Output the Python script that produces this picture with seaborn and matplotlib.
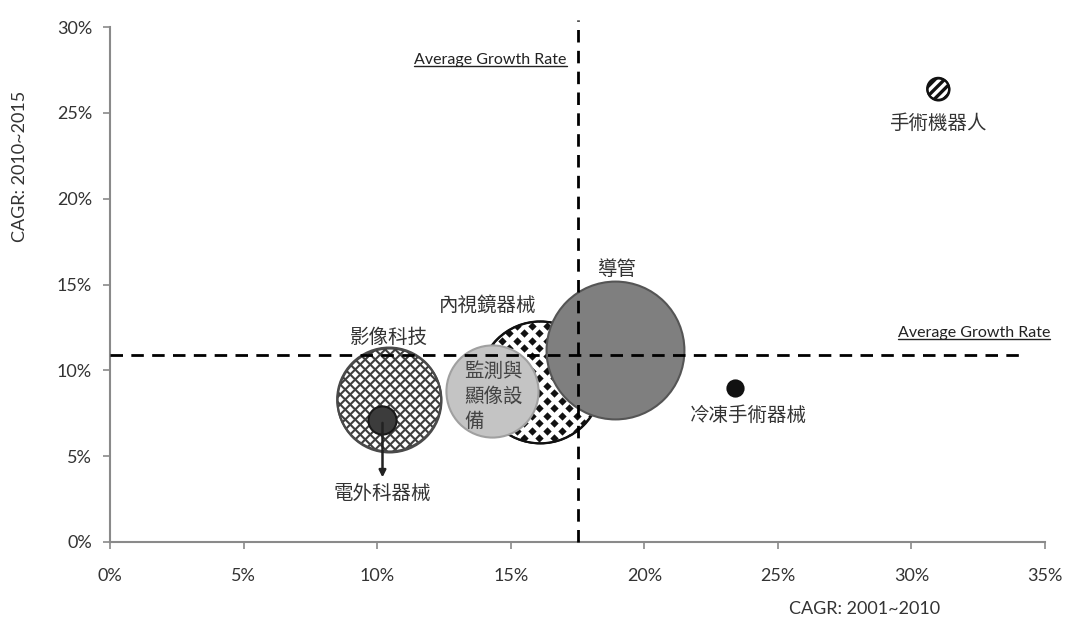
import numpy as np
import pandas as pd
import matplotlib
matplotlib.use("Agg")
import matplotlib.pyplot as plt
import seaborn as sns
from matplotlib.ticker import FuncFormatter
from matplotlib.transforms import Affine2D, IdentityTransform
from matplotlib.collections import LineCollection

# bubble data (CAGR in %)
names = ["影像科技", "電外科器械", "內視鏡器械", "監測與顯像設備", "導管", "冷凍手術器械", "手術機器人"]
cagr_2001_2010 = [10.45, 10.2, 16.1, 14.3, 18.9, 23.4, 31.0]
cagr_2010_2015 = [8.3, 7.1, 9.3, 8.8, 11.2, 9.0, 26.4]
bubble_size = [5600, 410, 7700, 4400, 9850, 135, 250]

avg_x = 17.5
avg_y = 10.9

df = pd.DataFrame({"name": names, "x": cagr_2001_2010, "y": cagr_2010_2015, "size": bubble_size})

sns.set_theme(style="white")
plt.rcParams["font.family"] = ["Lato", "Noto Sans CJK TC", "DejaVu Sans"]

fig = plt.figure(figsize=(10.66, 6.25), dpi=100)
ax = fig.add_axes([0.1032, 0.1328, 0.8771, 0.824])

# per-bubble styling: face, edge, texture, z
styles = {
    "影像科技": ("white", "#4a4a4a", "cross", 2),
    "電外科器械": ("#3c3c3c", "#1a1a1a", None, 3),
    "內視鏡器械": ("white", "#111111", "diamond", 2),
    "監測與顯像設備": ("#c4c4c4", "#a0a0a0", None, 3),
    "導管": ("#7f7f7f", "#555555", None, 3),
    "冷凍手術器械": ("#111111", "#111111", None, 3),
    "手術機器人": ("white", "#111111", "stripe", 3),
}

bubbles = {}
for _, row in df.iterrows():
    face, edge, tex, z = styles[row["name"]]
    sns.scatterplot(x=[row["x"]], y=[row["y"]], s=row["size"], color=face,
                    edgecolor=edge, linewidth=1.5, zorder=z, ax=ax, legend=False)
    bubbles[row["name"]] = ax.collections[-1]

# average growth rate lines
ax.plot([avg_x, avg_x], [0, 30.4], ls=(0, (4.5, 3)), color="black", lw=2, zorder=5, clip_on=False)
ax.plot([0, 34.1], [avg_y, avg_y], ls=(0, (4.5, 3)), color="black", lw=2, zorder=5, clip_on=False)

avg_labels = [
    ax.text(17.1, 28.1, "Average Growth Rate", ha="right", va="center", fontsize=11.5, color="#222222"),
    ax.text(35.2, 12.2, "Average Growth Rate", ha="right", va="center", fontsize=11.5, color="#222222"),
]

# arrow for 電外科器械
ax.annotate("", xy=(10.2, 3.6), xytext=(10.2, 7.1),
            arrowprops=dict(arrowstyle="-|>", color="#222222", lw=1.8, mutation_scale=10), zorder=6)

cjk = ["Noto Sans CJK TC", "DejaVu Sans"]
label_pos = {
    "影像科技": (10.45, 11.9),
    "電外科器械": (10.2, 2.8),
    "內視鏡器械": (14.15, 13.8),
    "導管": (19.0, 15.9),
    "冷凍手術器械": (23.9, 7.4),
    "手術機器人": (31.0, 24.4),
}
for n, (lx, ly) in label_pos.items():
    ax.text(lx, ly, n, ha="center", va="center", fontsize=14, color="#333333", family=cjk, zorder=7)
ax.text(13.25, 8.5, "監測與\n顯像設\n備", ha="left", va="center", fontsize=14, color="#444444",
        family=cjk, linespacing=1.25, zorder=7)

ax.set_xlim(0, 35)
ax.set_ylim(0, 30)
ax.set_xticks(np.arange(0, 36, 5))
ax.set_yticks(np.arange(0, 31, 5))
pct = FuncFormatter(lambda v, p: f"{int(v)}%")
ax.xaxis.set_major_formatter(pct)
ax.yaxis.set_major_formatter(pct)

sns.despine(ax=ax)
for s in ["left", "bottom"]:
    ax.spines[s].set_color("#8a8a8a")
    ax.spines[s].set_linewidth(1.5)
ax.tick_params(axis="x", direction="out", length=5, width=1.2, color="#8a8a8a", pad=14,
               labelsize=13, labelcolor="#333333")
ax.tick_params(axis="y", direction="out", length=5, width=1.2, color="#8a8a8a", pad=8,
               labelsize=13, labelcolor="#333333")
ax.tick_params(bottom=True, left=True)

ax.set_xlabel("CAGR: 2001~2010", fontsize=13, color="#333333")
ax.set_ylabel("CAGR: 2010~2015", fontsize=13, color="#333333")
ax.xaxis.set_label_coords(0.807, -0.115)
ax.yaxis.set_label_coords(-0.088, 0.73)

fig.canvas.draw()

# fill patterns, drawn in pixel space and clipped to each bubble
def bubble_clip(coll):
    cx, cy = ax.transData.transform(coll.get_offsets()[0])
    tr = Affine2D(coll.get_transforms()[0]).translate(cx, cy)
    r = 0.5 * np.sqrt(coll.get_sizes()[0]) * fig.dpi / 72
    return coll.get_paths()[0], tr, cx, cy, r

def diag_lines(cx, cy, r, period, slopes):
    segs = []
    for sl in slopes:
        for k in np.arange(-2 * r, 2 * r + period, period):
            xs = np.array([cx - 2 * r, cx + 2 * r])
            ys = cy + sl * (xs - cx - k)
            segs.append(np.column_stack([xs, ys]))
    return segs

for n, coll in bubbles.items():
    tex = styles[n][2]
    if tex is None:
        continue
    path, tr, cx, cy, r = bubble_clip(coll)
    z = coll.get_zorder() + 0.1
    if tex == "cross":
        lc = LineCollection(diag_lines(cx, cy, r, 10, [1, -1]), colors="#3e3e3e",
                            linewidths=1.5, transform=IdentityTransform(), zorder=z)
        ax.add_collection(lc)
    elif tex == "stripe":
        lc = LineCollection(diag_lines(cx, cy, r, 9.5, [1]), colors="#111111",
                            linewidths=2.4, transform=IdentityTransform(), zorder=z)
        ax.add_collection(lc)
    else:
        px, py = [], []
        for j, yy in enumerate(np.arange(cy - r - 10, cy + r + 10, 7.5)):
            off = 7.5 if j % 2 else 0
            for xx in np.arange(cx - r - 15 + off, cx + r + 15, 15):
                px.append(xx)
                py.append(yy)
        lc = ax.scatter(px, py, s=36, marker=[(0, 1), (1, 0), (0, -1), (-1, 0)],
                        color="#111111", linewidths=0, transform=IdentityTransform(), zorder=z)
    lc.set_clip_path(path, tr)
    # redraw edge on top of pattern
    ax.scatter(*coll.get_offsets()[0], s=coll.get_sizes()[0], facecolor="none",
               edgecolor=styles[n][1], linewidths=1.5, zorder=z + 0.05)

# underline the average labels
inv = ax.transData.inverted()
for t in avg_labels:
    bb = t.get_window_extent()
    (x0, y0), (x1, _) = inv.transform([(bb.x0, bb.y0 + 1), (bb.x1, bb.y0 + 1)])
    ax.plot([x0, x1], [y0, y0], color="#222222", lw=1, clip_on=False, zorder=7)

ax.set_xlim(0, 35)
ax.set_ylim(0, 30)
fig.savefig("out.png", dpi=100)
